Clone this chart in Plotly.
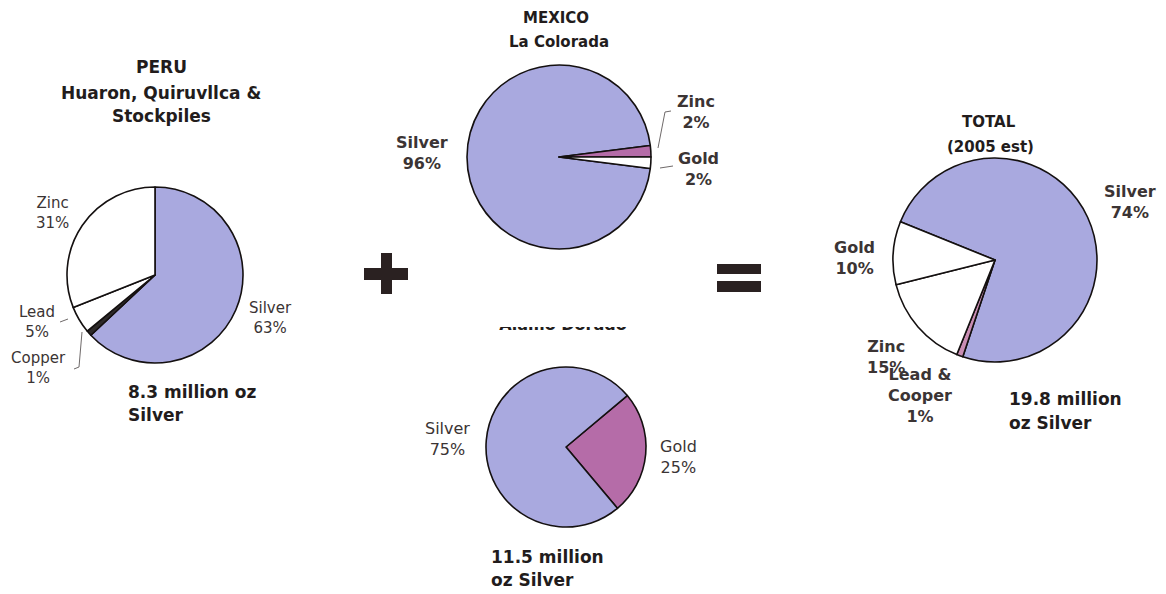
import plotly.graph_objects as go

W, H = 1166, 594

# ---------------- data ----------------
peru_labels = ["Silver", "Copper", "Lead", "Zinc"]
peru_values = [63, 1, 5, 31]
peru_oz = 8.3

mexico_labels = ["Silver", "Zinc", "Gold"]
mexico_values = [96, 2, 2]

alamo_labels = ["Gold", "Silver"]
alamo_values = [25, 75]
alamo_oz = 11.5

total_labels = ["Silver", "Lead & Cooper", "Zinc", "Gold"]
total_values = [74, 1, 15, 10]
total_oz = 19.8

# ---------------- styles ----------------
SILVER = "#a9a9df"
PINK = "#b56ca8"
LIGHT_PINK = "#c98db3"
DARK = "#2e2a2a"
WHITE = "#ffffff"
TITLE_C = "#221c1c"
LABEL_C = "#3b3434"
FONT = "DejaVu Sans"

peru_colors = [SILVER, DARK, WHITE, WHITE]
mexico_colors = [SILVER, PINK, WHITE]
alamo_colors = [PINK, SILVER]
total_colors = [SILVER, LIGHT_PINK, WHITE, WHITE]


def dom(cx, cy, r):
    return dict(x=[(cx - r) / W, (cx + r) / W], y=[1 - (cy + r) / H, 1 - (cy - r) / H])


def pie(labels, values, colors, rotation, domain):
    return go.Pie(
        labels=labels, values=values, sort=False, direction="clockwise",
        rotation=rotation, domain=domain, textinfo="none", hoverinfo="label+percent",
        marker=dict(colors=colors, line=dict(color="#141010", width=1.6)),
        showlegend=False,
    )


fig = go.Figure()
fig.add_trace(pie(peru_labels, peru_values, peru_colors, 0, dom(155, 275, 88)))
fig.add_trace(pie(mexico_labels, mexico_values, mexico_colors, 97.2, dom(559, 157, 92)))
fig.add_trace(pie(alamo_labels, alamo_values, alamo_colors, 50, dom(566, 447, 80)))
fig.add_trace(pie(total_labels, total_values, total_colors, 292, dom(995, 260, 102)))

# clipped "Alamo Dorado" heading (only lower part visible, as in the source)
fig.add_trace(go.Scatter(
    x=[563], y=[325.5], mode="text", text=["<b>Alamo Dorado</b>"],
    textfont=dict(family=FONT, size=16, color=TITLE_C), cliponaxis=True,
    hoverinfo="skip", showlegend=False, xaxis="x", yaxis="y",
))

annotations = []


def ann(text, x, y, size, bold=False, color=LABEL_C, xanchor="center"):
    annotations.append(dict(
        text=f"<b>{text}</b>" if bold else text, x=x / W, y=1 - y / H,
        xref="paper", yref="paper", xanchor=xanchor, yanchor="middle",
        showarrow=False, font=dict(family=FONT, size=size, color=color),
        align="center" if xanchor == "center" else "left",
    ))


def pct_label(labels, values, name, display=None):
    v = values[labels.index(name)]
    return f"{display or name}<br>{v}%"


# titles
ann("PERU", 161, 67, 17, True, TITLE_C)
ann("Huaron, Quiruvllca &", 161, 93, 17, True, TITLE_C)
ann("Stockpiles", 161, 116, 17, True, TITLE_C)
ann("MEXICO", 556, 18, 15, True, TITLE_C)
ann("La Colorada", 559, 42, 15, True, TITLE_C)
ann("TOTAL", 989, 122, 15, True, TITLE_C)
ann("(2005 est)", 990, 147, 15, True, TITLE_C)

# Peru labels
ann(pct_label(peru_labels, peru_values, "Zinc"), 52, 213, 15)
ann(pct_label(peru_labels, peru_values, "Lead"), 37, 322, 15)
ann(pct_label(peru_labels, peru_values, "Copper"), 38, 368, 15)
ann(pct_label(peru_labels, peru_values, "Silver"), 270, 318, 15)

# Mexico labels
ann(pct_label(mexico_labels, mexico_values, "Silver"), 422, 153, 16, True)
ann(pct_label(mexico_labels, mexico_values, "Zinc"), 696, 112, 16, True)
ann(pct_label(mexico_labels, mexico_values, "Gold"), 698, 169, 16, True)

# Alamo Dorado labels
ann(pct_label(alamo_labels, alamo_values, "Silver"), 447, 439, 16)
ann(pct_label(alamo_labels, alamo_values, "Gold"), 678, 457, 16)

# Total labels
ann(pct_label(total_labels, total_values, "Silver"), 1130, 202, 16, True)
ann(pct_label(total_labels, total_values, "Gold"), 854, 258, 16, True)
ann(pct_label(total_labels, total_values, "Zinc"), 886, 357, 16, True)
ann(pct_label(total_labels, total_values, "Lead & Cooper", "Lead &<br>Cooper"), 920, 395, 16, True)

# production totals
ann(f"{peru_oz} million oz", 126, 392, 17, True, TITLE_C, "left")
ann("Silver", 126, 415, 17, True, TITLE_C, "left")
ann(f"{alamo_oz} million", 489, 557, 17, True, TITLE_C, "left")
ann("oz Silver", 489, 580, 17, True, TITLE_C, "left")
ann(f"{total_oz} million", 1007, 399, 17, True, TITLE_C, "left")
ann("oz Silver", 1007, 423, 17, True, TITLE_C, "left")

# operators and leader lines (decoration, pixel positions converted to paper)
OP = "#2a2121"


def px_rect(x0, x1, y0, y1):
    return dict(type="rect", xref="paper", yref="paper",
                x0=x0 / W, x1=x1 / W, y0=1 - y1 / H, y1=1 - y0 / H,
                fillcolor=OP, line_width=0)


shapes = [
    px_rect(364, 408, 268, 280),
    px_rect(381, 392, 253, 294),
    px_rect(717, 761, 264, 274),
    px_rect(717, 761, 281, 292),
]
leaders = [
    [(60, 322), (68, 319)],
    [(82, 332), (79, 367), (74, 369)],
    [(658, 148), (665, 112), (671, 111)],
    [(660, 168), (673, 166)],
]
for pts in leaders:
    for (xa, ya), (xb, yb) in zip(pts[:-1], pts[1:]):
        shapes.append(dict(type="line", xref="paper", yref="paper",
                           x0=xa / W, y0=1 - ya / H, x1=xb / W, y1=1 - yb / H,
                           line=dict(color="#6f6a6a", width=1)))

fig.update_layout(
    width=W, height=H, margin=dict(l=0, r=0, t=0, b=0),
    paper_bgcolor="white", plot_bgcolor="rgba(0,0,0,0)",
    showlegend=False, annotations=annotations, shapes=shapes,
    xaxis=dict(domain=[0, 1], range=[0, W], visible=False, fixedrange=True),
    yaxis=dict(domain=[0, (H - 327) / H], range=[H, 327], visible=False, fixedrange=True),
)

fig.write_html("out.html")
